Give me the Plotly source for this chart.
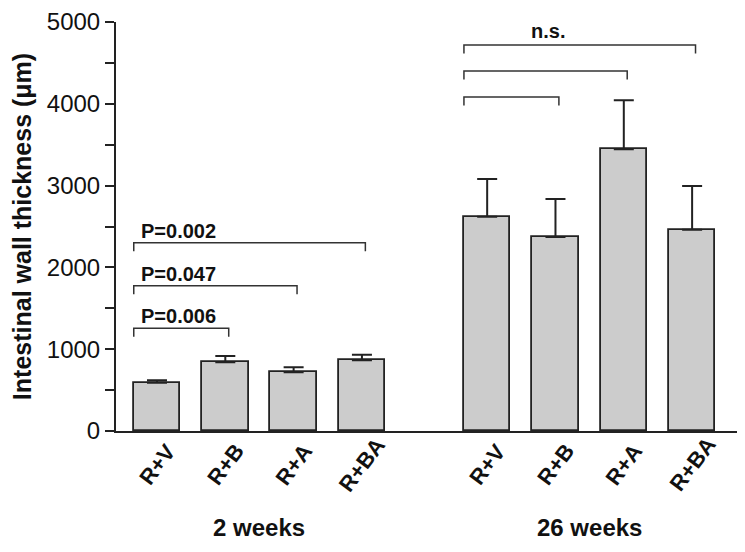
import plotly.graph_objects as go

# ---- data ----
groups = ["2 weeks", "26 weeks"]
treatments = ["R+V", "R+B", "R+A", "R+BA"]
x_pos = [0, 1, 2, 3, 4.833, 5.833, 6.833, 7.833]
means_2wk = [590, 840, 718, 864]
err_2wk = [30, 77, 61, 69]
means_26wk = [2620, 2372, 3444, 2461]
err_26wk = [461, 464, 599, 534]

# comparison brackets: (left index, right index, height, label)
bracket_left = [0, 0, 0, 4, 4, 4]
bracket_right = [1, 2, 3, 5, 6, 7]
bracket_height = [1256, 1776, 2302, 4083, 4401, 4719]
bracket_label = ["P=0.006", "P=0.047", "P=0.002", "", "", ""]
ns_label = "n.s."

y_ticks = [0, 1000, 2000, 3000, 4000, 5000]

# ---- style ----
FONT = "Liberation Sans, Arial, sans-serif"
INK = "#222222"
BAR_W = 0.68
DROP = 105

means = means_2wk + means_26wk
errs = err_2wk + err_26wk
labels = treatments + treatments

fig = go.Figure()
fig.add_trace(go.Bar(
    x=x_pos, y=means, width=BAR_W,
    marker=dict(color="#cccccc", line=dict(color=INK, width=1.8)),
    error_y=dict(type="data", array=errs, arrayminus=[0] * len(errs), symmetric=False,
                 color=INK, thickness=2, width=10),
    showlegend=False, hoverinfo="skip",
))

for li, ri, h in zip(bracket_left, bracket_right, bracket_height):
    xl = x_pos[li] - BAR_W / 2
    xr = x_pos[ri] + 0.05
    fig.add_trace(go.Scatter(
        x=[xl, xl, xr, xr], y=[h - DROP, h, h, h - DROP], mode="lines",
        line=dict(color="#333333", width=1.5), showlegend=False, hoverinfo="skip",
    ))

annotations = []
for li, h, t in zip(bracket_left, bracket_height, bracket_label):
    if t:
        annotations.append(dict(
            x=x_pos[li] - BAR_W / 2, y=h, xref="x", yref="y", text="<b>%s</b>" % t,
            xanchor="left", yanchor="middle", xshift=5, yshift=12, showarrow=False,
            font=dict(family=FONT, size=20, color="#111111"),
        ))
annotations.append(dict(
    x=5.72, y=bracket_height[-1], xref="x", yref="y", text="<b>%s</b>" % ns_label,
    xanchor="center", yanchor="middle", yshift=14, showarrow=False,
    font=dict(family=FONT, size=20, color="#111111"),
))
for xp, lab in zip(x_pos, labels):
    annotations.append(dict(
        x=xp, y=0, xref="x", yref="paper", text="<b>%s</b>" % lab, textangle=-53,
        xanchor="center", yanchor="middle", yshift=-33, showarrow=False,
        font=dict(family=FONT, size=22, color="#111111"),
    ))
group_centers = [sum(x_pos[0:4]) / 4, sum(x_pos[4:8]) / 4]
for gx, g in zip(group_centers, groups):
    annotations.append(dict(
        x=gx, y=0, xref="x", yref="paper", text="<b>%s</b>" % g,
        xanchor="center", yanchor="middle", yshift=-96, showarrow=False,
        font=dict(family=FONT, size=24, color="#111111"),
    ))

# the page body adds an 8px offset, so the figure is sized to fit the window
fig.update_layout(
    width=737, height=544,
    margin=dict(l=108, r=8, t=14, b=121, autoexpand=False),
    paper_bgcolor="white", plot_bgcolor="white",
    font=dict(family=FONT, color="#111111"),
    annotations=annotations,
    bargap=0,
)
fig.update_xaxes(
    range=[-0.6, 8.49], showline=True, linecolor=INK, linewidth=2,
    showticklabels=False, ticks="", showgrid=False, zeroline=False, automargin=False,
)
fig.update_yaxes(
    range=[0, 5000], tickvals=y_ticks, showline=True, linecolor=INK, linewidth=2,
    ticks="outside", ticklen=9, tickwidth=1.5, tickcolor=INK,
    minor=dict(dtick=500, ticks="outside", ticklen=9, tickwidth=1.5, tickcolor=INK),
    showgrid=False, zeroline=False, automargin=False,
    tickfont=dict(family=FONT, size=24, color="#111111"),
    title=dict(text="<b>Intestinal wall thickness (μm)</b>", standoff=12,
               font=dict(family=FONT, size=25, color="#111111")),
)

fig.write_html("out.html")
